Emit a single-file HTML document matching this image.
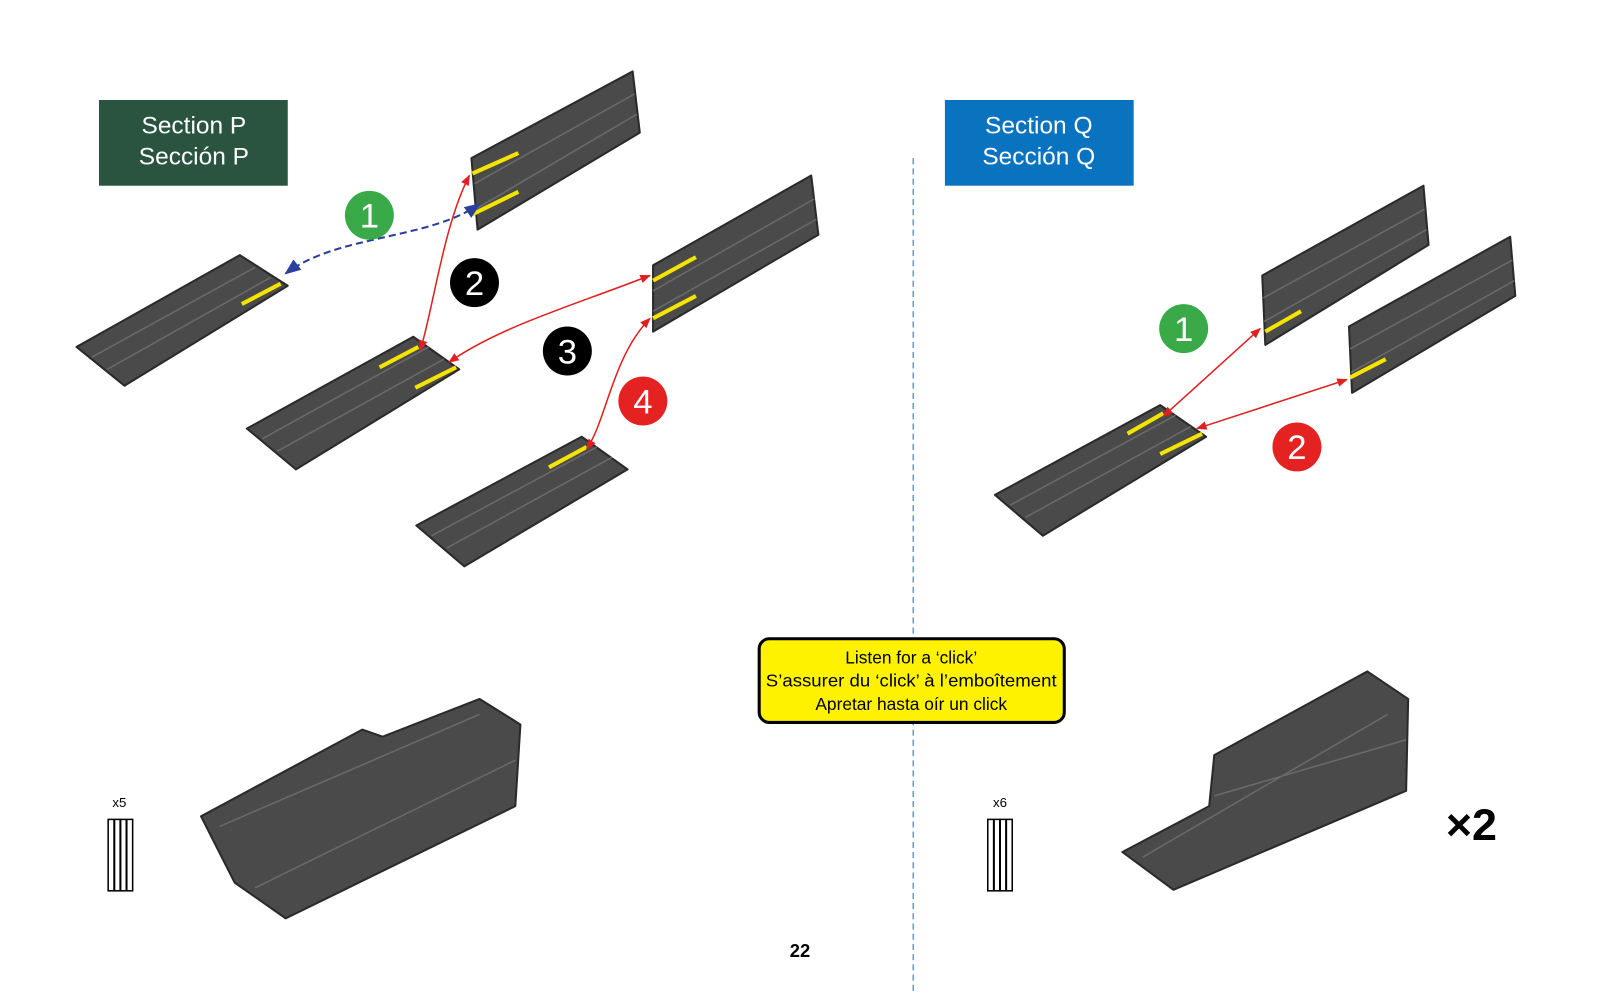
<!DOCTYPE html>
<html><head><meta charset="utf-8"><style>
html,body{margin:0;padding:0;background:#fff;}
svg{display:block}
text{font-family:"Liberation Sans",sans-serif}
</style></head><body>
<svg width="1600" height="1000" viewBox="0 0 1568 980" preserveAspectRatio="none" xmlns="http://www.w3.org/2000/svg">
<defs>
<marker id="ar" viewBox="0 0 10 10" refX="9" refY="5" markerWidth="7" markerHeight="7" orient="auto-start-reverse"><path d="M0,1 L10,5 L0,9 z" fill="#e02020"/></marker>
<marker id="ab" viewBox="0 0 10 10" refX="9" refY="5" markerWidth="8" markerHeight="8" orient="auto-start-reverse"><path d="M0,1 L10,5 L0,9 z" fill="#2a3fa0"/></marker>
</defs>
<rect width="1568" height="980" fill="#fff"/>
<line x1="895" y1="155" x2="895" y2="975" stroke="#6a9ad6" stroke-width="1.5" stroke-dasharray="6,4"/>

<rect x="97" y="98" width="185" height="84" fill="#2a5440"/>
<text x="190" y="131" fill="#fff" font-size="24" text-anchor="middle">Section P</text>
<text x="190" y="161" fill="#fff" font-size="24" text-anchor="middle">Sección P</text>
<rect x="926" y="98" width="185" height="84" fill="#0a73c0"/>
<text x="1018" y="131" fill="#fff" font-size="24" text-anchor="middle">Section Q</text>
<text x="1018" y="161" fill="#fff" font-size="24" text-anchor="middle">Sección Q</text>

<g fill="#4a4a4a" stroke="#2a2a2a" stroke-width="2" stroke-linejoin="round">
<polygon points="75,340 235,250 282,280 122,378"/>
<polygon points="462,155 620,70 627,130 468,225"/>
<polygon points="640,260 795,172 802,230 640,325"/>
<polygon points="242,420 405,330 450,362 290,460"/>
<polygon points="408,515 570,428 615,460 455,555"/>
<polygon points="1237,270 1395,182 1400,240 1240,338"/>
<polygon points="1322,320 1480,232 1485,290 1325,385"/>
<polygon points="975,485 1137,397 1182,428 1022,525"/>
<polygon points="197,800 355,715 375,722 470,685 510,710 505,790 280,900 230,865"/>
<polygon points="1100,835 1185,790 1190,740 1340,658 1380,685 1378,775 1150,872"/>
</g>
<g stroke="#6a6a6a" stroke-width="1.5" fill="none">
<path d="M90,350 L250,262 M105,362 L265,272"/>
<path d="M465,180 L622,92 M466,205 L624,112"/>
<path d="M640,285 L798,195 M640,305 L800,215"/>
<path d="M257,430 L420,340 M272,442 L435,352"/>
<path d="M423,525 L585,438 M438,537 L600,448"/>
<path d="M1238,292 L1396,205 M1239,315 L1398,225"/>
<path d="M1323,342 L1482,255 M1324,365 L1484,275"/>
<path d="M990,495 L1152,407 M1005,507 L1167,418"/>
<path d="M215,810 L470,700 M250,870 L505,745 M1120,840 L1360,700 M1190,780 L1378,725"/>
</g>
<g stroke="#f5e400" stroke-width="4">
<line x1="463" y1="170" x2="508" y2="150"/><line x1="463" y1="210" x2="508" y2="188"/>
<line x1="237" y1="298" x2="275" y2="278"/>
<line x1="372" y1="360" x2="410" y2="340"/><line x1="407" y1="380" x2="447" y2="360"/>
<line x1="640" y1="275" x2="682" y2="252"/><line x1="640" y1="312" x2="682" y2="290"/>
<line x1="538" y1="458" x2="575" y2="438"/>
<line x1="1240" y1="325" x2="1275" y2="305"/>
<line x1="1105" y1="425" x2="1140" y2="405"/><line x1="1137" y1="445" x2="1178" y2="425"/>
<line x1="1323" y1="370" x2="1358" y2="352"/>
</g>
<path d="M470,200 C420,235 330,230 280,268" stroke="#2a3fa0" stroke-width="2" stroke-dasharray="7,4" fill="none" marker-start="url(#ab)" marker-end="url(#ab)"/>
<g stroke="#e02020" stroke-width="1.5" fill="none">
<path d="M460,172 C435,220 425,300 412,343" marker-start="url(#ar)" marker-end="url(#ar)"/>
<path d="M637,270 C560,300 490,320 440,355" marker-start="url(#ar)" marker-end="url(#ar)"/>
<path d="M637,312 C600,350 595,410 575,440" marker-start="url(#ar)" marker-end="url(#ar)"/>
<path d="M1235,322 L1140,408" marker-start="url(#ar)" marker-end="url(#ar)"/>
<path d="M1320,372 L1173,420" marker-start="url(#ar)" marker-end="url(#ar)"/>
</g>
<g font-family="Liberation Serif,serif" font-size="34" text-anchor="middle" fill="#fff">
<circle cx="362" cy="211" r="24" fill="#3aaa48"/><text x="362" y="223">1</text>
<circle cx="465" cy="277" r="24" fill="#000"/><text x="465" y="289">2</text>
<circle cx="556" cy="344" r="24" fill="#000"/><text x="556" y="356">3</text>
<circle cx="630" cy="393" r="24" fill="#e52222"/><text x="630" y="405">4</text>
<circle cx="1160" cy="322" r="24" fill="#3aaa48"/><text x="1160" y="334">1</text>
<circle cx="1271" cy="438" r="24" fill="#e52222"/><text x="1271" y="450">2</text>
</g>
<rect x="744" y="626" width="299" height="82" rx="10" fill="#fff200" stroke="#000" stroke-width="3"/>
<g font-size="17" text-anchor="middle" fill="#000">
<text x="893" y="650">Listen for a ‘click’</text>
<text x="893" y="673" textLength="285" lengthAdjust="spacingAndGlyphs">S’assurer du ‘click’ à l’emboîtement</text>
<text x="893" y="696">Apretar hasta oír un click</text>
</g>
<text x="117" y="791" font-size="13" text-anchor="middle">x5</text>
<text x="980" y="791" font-size="13" text-anchor="middle">x6</text>
<g fill="#fff" stroke="#000" stroke-width="1.5">
<rect x="106" y="803" width="24" height="70"/><rect x="968" y="803" width="24" height="70"/>
</g>
<g stroke="#000" stroke-width="2"><path d="M112,803 V873 M118,803 V873 M124,803 V873 M974,803 V873 M980,803 V873 M986,803 V873"/></g>
<text x="1442" y="823" font-size="44" font-weight="bold" text-anchor="middle">×2</text>
<text x="784" y="938" font-size="18" font-weight="bold" text-anchor="middle">22</text>
</svg>
</body></html>
